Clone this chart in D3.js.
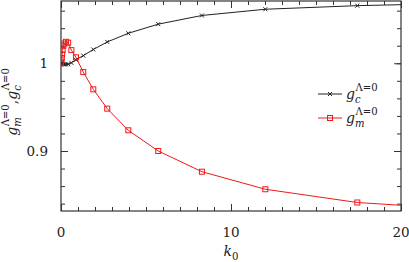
<!DOCTYPE html>
<html>
<head>
<meta charset="utf-8">
<script src="https://cdn.jsdelivr.net/npm/d3@7"></script>
<style>
  body { margin: 0; background: #fff; }
</style>
</head>
<body>
<div id="chart"></div>
<script>
// chart values
var k0 = [0, 0.02, 0.045, 0.065, 0.095, 0.14, 0.2, 0.29, 0.42, 0.61, 0.88, 1.31, 1.90, 2.72, 3.96, 5.72, 8.29, 12.02, 17.43, 25.2];
var gc = [1.000, 0.9998, 0.9996, 0.9994, 0.9992, 0.9990, 0.9988, 0.9987, 0.9989, 1.0005, 1.0040, 1.0087, 1.0157, 1.0243, 1.0342, 1.0446, 1.0545, 1.0616, 1.0657, 1.0690];
var gm = [1.000, 1.002, 1.006, 1.010, 1.015, 1.020, 1.0225, 1.0245, 1.0235, 1.015, 1.0068, 0.9900, 0.9703, 0.9483, 0.9236, 0.9000, 0.8764, 0.8564, 0.8413, 0.8316];
var xMajor = [0, 10, 20];
var yMajor = [0.9, 1];
var yMinor = [0.84, 0.86, 0.88, 0.9, 0.92, 0.94, 0.96, 0.98, 1, 1.02, 1.04, 1.06];

var FONT = "DejaVu Serif";

var svgWidth = 409, svgHeight = 262;
var margin = {top: 1, right: 8, bottom: 51, left: 61};
var width = svgWidth - margin.left - margin.right;
var height = svgHeight - margin.top - margin.bottom;

var svg = d3.select("#chart").append("svg")
  .attr("width", svgWidth)
  .attr("height", svgHeight);

var chartGroup = svg.append("g")
  .attr("transform", `translate(${margin.left}, ${margin.top})`);

var x = d3.scaleLinear().domain([0, 20]).range([0, width]);
var y = d3.scaleLinear().domain([0.8316, 1.071]).range([height, 0]);

var xMinor = d3.range(0, 21, 1);

// frame ticks, all pointing inward
function addTicks(axisFn, scale, vals, size, tr) {
  chartGroup.append("g")
    .attr("transform", tr)
    .call(axisFn(scale).tickValues(vals).tickSize(size).tickFormat(""))
    .call(g => g.select(".domain").remove())
    .selectAll("line").attr("stroke", "#333");
}
addTicks(d3.axisTop, x, xMinor, 4, `translate(0,${height})`);
addTicks(d3.axisTop, x, xMajor, 7, `translate(0,${height})`);
addTicks(d3.axisBottom, x, xMinor, 4, "translate(0,0)");
addTicks(d3.axisBottom, x, xMajor, 7, "translate(0,0)");
addTicks(d3.axisRight, y, yMinor, 4, "translate(0,0)");
addTicks(d3.axisRight, y, yMajor, 7, "translate(0,0)");
addTicks(d3.axisLeft, y, yMinor, 4, `translate(${width},0)`);
addTicks(d3.axisLeft, y, yMajor, 7, `translate(${width},0)`);

chartGroup.append("rect")
  .attr("width", width).attr("height", height)
  .attr("fill", "none").attr("stroke", "#333").attr("stroke-width", 1.2);

// tick labels
chartGroup.selectAll(".xl").data(xMajor).enter().append("text")
  .attr("x", d => x(d)).attr("y", height + 26)
  .attr("text-anchor", "middle").attr("font-family", FONT).attr("font-size", 13.5).attr("fill", "#222")
  .text(d => d);
chartGroup.selectAll(".yl").data(yMajor).enter().append("text")
  .attr("x", -13).attr("y", d => y(d) + 5)
  .attr("text-anchor", "end").attr("font-family", FONT).attr("font-size", 13.5).attr("fill", "#222")
  .text(d => d);

// series
chartGroup.append("clipPath").attr("id", "clip")
  .append("rect").attr("width", width).attr("height", height);
var plot = chartGroup.append("g").attr("clip-path", "url(#clip)");

var lineC = d3.line().x((d, i) => x(k0[i])).y(d => y(d));

plot.append("path").datum(gc).attr("d", lineC)
  .attr("fill", "none").attr("stroke", "#222").attr("stroke-width", 1);
plot.append("path").datum(gm).attr("d", lineC)
  .attr("fill", "none").attr("stroke", "#f01818").attr("stroke-width", 1);

function cross(g, cx, cy) {
  g.append("path")
    .attr("d", `M${cx - 2},${cy - 2}L${cx + 2},${cy + 2}M${cx - 2},${cy + 2}L${cx + 2},${cy - 2}`)
    .attr("stroke", "#222").attr("stroke-width", 1);
}
function square(g, cx, cy) {
  g.append("rect").attr("x", cx - 2.5).attr("y", cy - 2.5)
    .attr("width", 5).attr("height", 5)
    .attr("fill", "none").attr("stroke", "#f01818").attr("stroke-width", 1);
}
gc.forEach((v, i) => cross(plot, x(k0[i]), y(v)));
gm.forEach((v, i) => square(plot, x(k0[i]), y(v)));

// math-ish label: g with stacked sub/superscript
function mathLabel(g, x0, y0, parts, fs) {
  var cx = x0;
  function txt(tx, ty, size, italic, s) {
    var t = g.append("text").attr("x", tx).attr("y", ty)
      .attr("font-family", FONT).attr("font-size", size).attr("fill", "#222")
      .attr("font-style", italic ? "italic" : "normal").text(s);
    return t.node().getComputedTextLength();
  }
  parts.forEach(p => {
    if (p.text) { cx += txt(cx, y0, fs, false, p.text); return; }
    cx += txt(cx, y0, fs, true, p.base);
    var w = 0;
    if (p.sub) w = Math.max(w, txt(cx, y0 + fs * 0.27, fs * 0.72, p.subItalic !== false, p.sub));
    if (p.sup) w = Math.max(w, txt(cx + 0.5, y0 - fs * 0.58, fs * 0.72, false, p.sup) + 0.5);
    cx += w;
  });
  return cx - x0;
}

// axis titles
var xt = chartGroup.append("g");
var xw = mathLabel(xt, 0, 0, [{base: "k", sub: "0", subItalic: false}], 14);
xt.attr("transform", `translate(${width / 2 - xw / 2}, ${height + 45})`);

var yt = svg.append("g");
var yparts = [{base: "g", sub: "m", sup: "Λ=0"}, {text: ", "}, {base: "g", sub: "c", sup: "Λ=0"}];
var yw = mathLabel(yt, 0, 0, yparts, 14);
yt.attr("transform", `translate(17, ${102 + yw / 2}) rotate(-90)`);

// legend
var legend = svg.append("g");
legend.append("line").attr("x1", 318).attr("x2", 342).attr("y1", 94).attr("y2", 94)
  .attr("stroke", "#222").attr("stroke-width", 1);
cross(legend, 330, 94);
mathLabel(legend, 346, 99, [{base: "g", sub: "c", sup: "Λ=0"}], 14);
legend.append("line").attr("x1", 318).attr("x2", 342).attr("y1", 118).attr("y2", 118)
  .attr("stroke", "#f01818").attr("stroke-width", 1);
square(legend, 330, 118);
mathLabel(legend, 346, 123, [{base: "g", sub: "m", sup: "Λ=0"}], 14);
</script>
</body>
</html>
